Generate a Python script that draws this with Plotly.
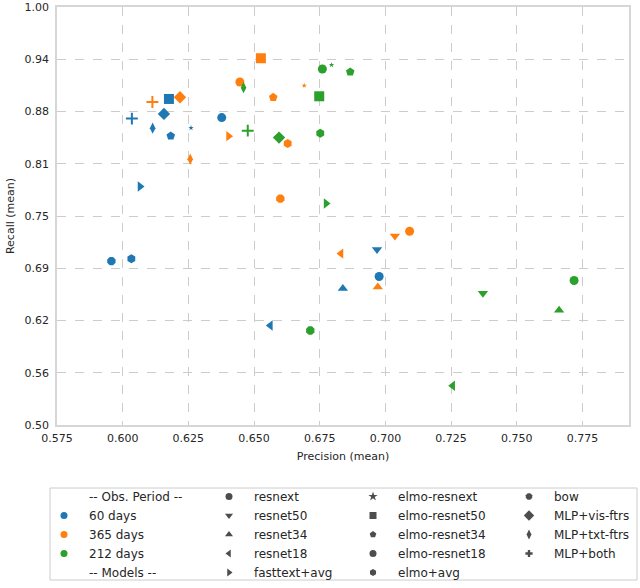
import plotly.graph_objects as go

# ---------------- data ----------------
models = ["resnext", "resnet50", "resnet34", "resnet18", "fasttext+avg",
          "elmo-resnext", "elmo-resnet50", "elmo-resnet34", "elmo-resnet18", "elmo+avg",
          "bow", "MLP+vis-ftrs", "MLP+txt-ftrs", "MLP+both"]

periods = ["60 days", "365 days", "212 days"]
period_colors = ["#1f77b4", "#ff7f0e", "#2ca02c"]

prec_60 = [0.6976, 0.6968, 0.6838, 0.6562, 0.6066, 0.6260, 0.6176, 0.6183, 0.6377, 0.6033,
           0.5957, 0.6157, 0.6114, 0.6035]
rec_60 = [0.6776, 0.7099, 0.6633, 0.6190, 0.7852, 0.8554, 0.8900, 0.8458, 0.8677, 0.6990,
          0.6960, 0.8721, 0.8550, 0.8665]

prec_365 = [0.7092, 0.7036, 0.6971, 0.6831, 0.6403, 0.6691, 0.6526, 0.6573, 0.6446, 0.6628,
            0.6600, 0.6218, 0.6257, 0.6113]
rec_365 = [0.7318, 0.7262, 0.6650, 0.7050, 0.8455, 0.9060, 0.9387, 0.8920, 0.9103, 0.8366,
           0.7708, 0.8920, 0.8180, 0.8864]

prec_212 = [0.7718, 0.7371, 0.7661, 0.7256, 0.6774, 0.6795, 0.6748, 0.6866, 0.6760, 0.6752,
            0.6714, 0.6595, 0.6460, 0.6476]
rec_212 = [0.6728, 0.6577, 0.6374, 0.5469, 0.7649, 0.9307, 0.8932, 0.9223, 0.9259, 0.8490,
           0.6130, 0.8438, 0.9035, 0.8521]

x_ticks = [0.575, 0.600, 0.625, 0.650, 0.675, 0.700, 0.725, 0.750, 0.775]
x_tick_text = ["0.575", "0.600", "0.625", "0.650", "0.675", "0.700", "0.725", "0.750", "0.775"]
y_ticks = [0.5, 0.5625, 0.625, 0.6875, 0.75, 0.8125, 0.875, 0.9375, 1.0]
y_tick_text = ["0.50", "0.56", "0.62", "0.69", "0.75", "0.81", "0.88", "0.94", "1.00"]

# ---------------- styles ----------------
symbols = {"resnext": "circle", "resnet50": "triangle-down", "resnet34": "triangle-up",
           "resnet18": "triangle-left", "fasttext+avg": "triangle-right",
           "elmo-resnext": "star", "elmo-resnet50": "square", "elmo-resnet34": "pentagon",
           "elmo-resnet18": "circle", "elmo+avg": "hexagon", "bow": "octagon",
           "MLP+vis-ftrs": "diamond", "MLP+txt-ftrs": "diamond-tall", "MLP+both": "cross-thin"}
sizes = {"resnext": 9, "resnet50": 9, "resnet34": 9, "resnet18": 9, "fasttext+avg": 9,
         "elmo-resnext": 4, "elmo-resnet50": 10, "elmo-resnet34": 9, "elmo-resnet18": 9,
         "elmo+avg": 9, "bow": 9, "MLP+vis-ftrs": 9.5, "MLP+txt-ftrs": 8, "MLP+both": 8.5}

FONT = "DejaVu Sans"
TXT = "#262626"

fig = go.Figure()

series = [(prec_60, rec_60), (prec_365, rec_365), (prec_212, rec_212)]
for (px_, ry_), pname, col in zip(series, periods, period_colors):
    line_cols = [col if m == "MLP+both" else "white" for m in models]
    line_w = [2 if m == "MLP+both" else 0 for m in models]
    fig.add_trace(go.Scatter(
        x=px_, y=ry_, mode="markers", showlegend=False, name=pname,
        text=models,
        marker=dict(symbol=[symbols[m] for m in models], size=[sizes[m] for m in models],
                    color=col, opacity=1, line=dict(color=line_cols, width=line_w)),
    ))

# ---------------- legend (4 columns) ----------------
def legend_entry(name, legend, color=None, symbol="circle", size=8, line_col="white", line_w=0):
    if color is None:
        mk = dict(color="rgba(0,0,0,0)", size=1, line=dict(width=0))
    else:
        mk = dict(color=color, symbol=symbol, size=size, line=dict(color=line_col, width=line_w))
    fig.add_trace(go.Scatter(x=[None], y=[None], mode="markers", name=name,
                             legend=legend, marker=mk, showlegend=True))

GRAY = "#4d4d4d"
legend_entry("-- Obs. Period --", "legend")
for pname, col in zip(periods, period_colors):
    legend_entry(pname, "legend", col, "circle", 7)
legend_entry("-- Models --", "legend")

cols = [models[0:5], models[5:10], models[10:14]]
for lg, group in zip(["legend2", "legend3", "legend4"], cols):
    for m in group:
        if m == "MLP+both":
            legend_entry(m, lg, GRAY, "cross", 6)
        elif m == "elmo-resnext":
            legend_entry(m, lg, GRAY, "star", 7)
        elif m == "MLP+vis-ftrs":
            legend_entry(m, lg, GRAY, "diamond", 8)
        else:
            legend_entry(m, lg, GRAY, symbols[m], 7)

# pixel helpers for legend placement (plot area: x 57..629, y 7..425)
PL, PW, PT, PH = 57, 572, 7, 418
def px2paper_x(p):
    return (p - PL) / PW
def px2paper_y(p):
    return 1 - (p - PT) / PH

leg_common = dict(bgcolor="rgba(0,0,0,0)", borderwidth=0, font=dict(family=FONT, size=12, color=TXT),
                  xanchor="left", yanchor="top", itemwidth=40, orientation="v",
                  tracegroupgap=0, itemsizing="trace")
leg_top = px2paper_y(482)
fig.update_layout(
    legend=dict(x=px2paper_x(39), y=leg_top, **leg_common),
    legend2=dict(x=px2paper_x(204), y=leg_top, **leg_common),
    legend3=dict(x=px2paper_x(348), y=leg_top, **leg_common),
    legend4=dict(x=px2paper_x(504), y=leg_top, **leg_common),
)

# legend frame
fig.add_shape(type="rect", xref="paper", yref="paper",
              x0=px2paper_x(50), x1=px2paper_x(637), y0=px2paper_y(580), y1=px2paper_y(488),
              line=dict(color="#cccccc", width=1), fillcolor="rgba(0,0,0,0)", layer="below")

axis_common = dict(showgrid=True, gridcolor="#cccccc", griddash="dash", gridwidth=1,
                   zeroline=False, showline=True, linecolor="#d6d6d6", linewidth=1.5, mirror=True,
                   ticks="", tickfont=dict(family=FONT, size=11, color=TXT))

fig.update_xaxes(range=[0.575, 0.7927], tickvals=x_ticks, ticktext=x_tick_text,
                 ticklabelstandoff=2,
                 title=dict(text="Precision (mean)", font=dict(family=FONT, size=11, color=TXT), standoff=8),
                 **axis_common)
fig.update_yaxes(range=[0.5, 1.0], tickvals=y_ticks, ticktext=y_tick_text,
                 ticklabelstandoff=4,
                 title=dict(text="Recall (mean)", font=dict(family=FONT, size=11, color=TXT), standoff=8),
                 **axis_common)

fig.update_layout(
    width=640, height=588,
    margin=dict(l=PL, r=640 - PL - PW, t=PT, b=588 - PT - PH, autoexpand=False),
    plot_bgcolor="white", paper_bgcolor="white",
    font=dict(family=FONT, size=11, color=TXT),
)

fig.write_html("out.html", config={"displayModeBar": False},
               post_script="document.body.style.margin='0px';")
